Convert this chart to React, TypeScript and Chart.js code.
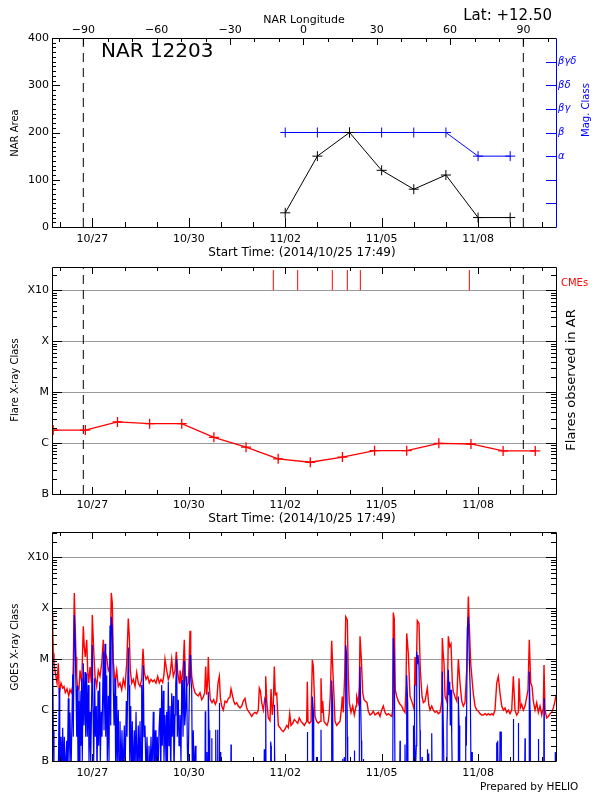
import React, { useEffect, useRef } from 'react';
import { Chart, registerables } from 'chart.js';

Chart.register(...registerables);

const FONT = "'DejaVu Sans', 'Liberation Sans', sans-serif";
const RED = '#ff0000';
const BLUE = '#0000ff';
const GRID = '#9a9a9a';

// ---- time axis: days after 2014-10-25 00:00 UT ----
const startDay = 0.742; // 2014/10/25 17:49
const endDay = 16.426;
const dateTickDays = [2, 5, 8, 11, 14];
const limbDays = [1.716, 15.409]; // -90 / +90 longitude crossing

// ---- longitude axis ----
const lonRange = [-102.8, 103.3];
const lonTicks = [-90, -60, -30, 0, 30, 60, 90];

// ---- NAR panel ----
const narDays = [8, 9, 10, 11, 12, 13, 14, 15];
const narArea = [30, 150, 200, 120, 80, 110, 20, 20];
const areaTicks = [0, 100, 200, 300, 400];
const magClass = [4, 4, 4, 4, 4, 4, 3, 3];
const magTicks = [3, 4, 5, 6, 7];
const magLabels = ['α', 'β', 'βγ', 'βδ', 'βγδ'];

// ---- flare panel ----
const flareDays = [0.78, 1.78, 2.78, 3.78, 4.78, 5.78, 6.78, 7.78, 8.78, 9.78, 10.78, 11.78, 12.78, 13.78, 14.78, 15.78];
const flareFlux = [1.8e-6, 1.8e-6, 2.6e-6, 2.4e-6, 2.4e-6, 1.3e-6, 8.3e-7, 4.9e-7, 4.2e-7, 5.3e-7, 7.1e-7, 7.1e-7, 9.9e-7, 9.6e-7, 7.0e-7, 7.0e-7];
const cmeDays = [7.629, 8.388, 9.465, 9.932, 10.337, 13.729];
const cmeSpan = [1.0e-3, 2.5e-3];

const classTicks = [1e-7, 1e-6, 1e-5, 1e-4, 1e-3];
const classLabels = ['B', 'C', 'M', 'X', 'X10'];
const flareRange = [1e-7, 2.87e-3];
const goesRange = [1e-7, 3.14e-3];

// ---- GOES flux, in units of 1e-6 W/m^2 ----
const goesUnit = 1e-6;
const goesLongDays = [0.742,0.764,0.782,0.804,0.835,0.866,0.898,0.938,0.969,1.022,1.075,1.115,1.156,1.209,1.262,1.302,1.343,1.386,1.405,1.436,1.467,1.489,1.511,1.542,1.582,1.613,1.666,1.716,1.747,1.778,1.822,1.853,1.884,1.925,1.965,1.996,2.040,2.080,2.133,2.183,2.236,2.289,2.339,2.370,2.401,2.444,2.494,2.547,2.587,2.619,2.650,2.703,2.755,2.805,2.858,2.911,2.961,3.014,3.067,3.116,3.148,3.179,3.222,3.272,3.325,3.378,3.428,3.481,3.533,3.574,3.614,3.667,3.720,3.770,3.823,3.876,3.926,3.978,4.031,4.081,4.134,4.187,4.227,4.258,4.311,4.361,4.414,4.467,4.517,4.570,4.610,4.654,4.704,4.725,4.778,4.828,4.859,4.890,4.934,4.984,5.015,5.037,5.058,5.090,5.139,5.192,5.245,5.295,5.348,5.401,5.451,5.494,5.525,5.556,5.588,5.606,5.637,5.668,5.721,5.774,5.824,5.868,5.908,5.949,5.980,6.023,6.073,6.126,6.179,6.229,6.281,6.313,6.353,6.396,6.437,6.490,6.540,6.593,6.645,6.695,6.748,6.801,6.851,6.904,6.957,7.007,7.060,7.112,7.162,7.193,7.225,7.268,7.318,7.371,7.393,7.424,7.474,7.526,7.558,7.598,7.629,7.660,7.691,7.735,7.785,7.838,7.890,7.940,7.993,8.046,8.096,8.139,8.180,8.233,8.283,8.335,8.388,8.438,8.491,8.544,8.594,8.668,8.687,8.709,8.749,8.802,8.843,8.874,8.905,8.927,8.979,9.029,9.082,9.113,9.145,9.166,9.207,9.247,9.300,9.341,9.372,9.403,9.446,9.477,9.518,9.549,9.602,9.652,9.705,9.757,9.776,9.807,9.851,9.882,9.932,9.963,9.994,10.047,10.100,10.150,10.203,10.224,10.274,10.306,10.327,10.368,10.411,10.452,10.492,10.545,10.586,10.638,10.691,10.741,10.794,10.847,10.897,10.949,11.002,11.052,11.105,11.158,11.208,11.261,11.313,11.345,11.363,11.394,11.425,11.469,11.519,11.572,11.625,11.675,11.727,11.758,11.780,11.830,11.883,11.936,11.986,12.017,12.039,12.070,12.110,12.163,12.204,12.257,12.297,12.350,12.422,12.465,12.506,12.559,12.608,12.661,12.714,12.764,12.817,12.870,12.888,12.919,12.941,12.972,13.025,13.057,13.075,13.119,13.159,13.200,13.231,13.284,13.337,13.387,13.439,13.492,13.542,13.595,13.648,13.698,13.729,13.772,13.822,13.853,13.906,13.959,14.009,14.062,14.115,14.164,14.217,14.270,14.320,14.373,14.425,14.475,14.528,14.581,14.631,14.684,14.737,14.787,14.839,14.892,14.942,14.995,15.048,15.098,15.150,15.203,15.253,15.275,15.315,15.359,15.409,15.462,15.515,15.555,15.595,15.639,15.680,15.720,15.773,15.826,15.876,15.929,15.982,16.031,16.053,16.084,16.137,16.187,16.240,16.292,16.342,16.395,16.426];
const goesLong = [80,40,13,8,6,4.5,3.4,8.3,2.2,3.4,2.7,2.9,2.2,2.6,1.9,2.5,2.2,2.9,8,200,37,11,4.6,2.5,2.5,6,3.4,44,17,11,24,6,3.4,7,3.4,74,15,4.6,2.9,6,4.6,8.3,24,6,13,11,6,7.2,200,125,9,3.4,6,2.9,3.4,2.5,4,2.9,8.3,63,28,6,3.4,4,2.9,5.5,3.4,2.9,4,16,5.5,4,4.6,3.4,4,3.6,3.9,3.4,4.6,3.4,4,3.5,5,10,6,4,5,10,4.6,6,14,5.5,3.4,6,3.4,8,24,5,2.9,3.4,12,36,12,4.6,2.9,2.2,2.0,1.9,2.2,1.6,1.8,2.2,7.2,2.0,4,11,3,1.6,1.4,1.6,1.3,1.5,3.4,4.6,1.8,1.2,1.0,1.5,1.4,1.7,1.8,2.6,2.0,1.5,1.3,1.4,1.2,1.1,1.2,1.5,1.7,1.1,0.95,0.85,0.75,0.85,0.9,0.85,1.0,2.7,2.4,1.4,1.0,1.8,4.6,1.5,0.7,0.62,2.6,0.8,1.3,7.2,2.0,2.15,0.5,0.45,0.4,0.38,0.42,0.5,0.45,0.85,0.5,0.55,0.65,0.6,0.55,0.7,0.6,0.55,0.5,0.6,3.6,0.6,0.55,0.6,9.7,7.2,2,0.75,0.6,0.55,0.6,4.2,0.9,1.5,0.6,0.55,0.5,0.6,0.9,2,23,7.2,1.85,0.6,0.5,0.55,0.6,1.2,1.85,0.9,5,68,59,4.6,1.4,0.9,1.2,0.8,1.2,1.85,1.4,3,28,10,2.2,1.6,1.5,1.4,0.95,0.8,0.85,0.95,0.8,0.85,0.9,0.75,1.0,1.2,0.9,0.8,0.85,0.8,0.75,1,82,61,2.5,1.85,1.5,1.3,1.2,1.0,0.9,3,32,13,1.85,1.5,1.2,1.0,11,3,57,50,6,1.85,1.4,1.5,2.7,1.3,1.0,1.2,1.0,0.9,0.95,0.85,0.9,1.5,26,12,8.3,1.9,1.5,5,28,17.7,20,3.4,2.3,1.8,1.5,10,3.4,1.5,1.2,1.4,6.2,170,43,8.3,3.5,2.1,1.2,1.0,0.95,0.85,0.8,0.8,0.85,0.8,0.85,0.8,0.85,0.8,1.0,3.4,4.6,2.15,1.2,1.0,1.1,0.9,1.0,0.85,1.0,4.6,1.0,0.8,0.9,4.2,1.1,1.3,1.0,1.2,1.8,2.5,24,3.4,2.9,1.5,1.0,1.4,0.9,1.2,0.8,1.1,7.7,1.0,0.7,0.75,0.85,0.9,1.1,1.5,2.0];

const goesShortDays = [
  0.742,0.764,0.782,0.804,0.938,0.969,0.984,1.022,1.044,1.075,1.094,1.125,1.156,1.199,1.218,1.249,1.271,1.302,1.333,1.386,1.405,1.436,1.467,
  1.489,1.511,1.530,1.551,1.573,1.592,1.613,1.644,1.666,1.684,
  1.716,1.738,1.769,1.791,1.822,1.840,1.871,1.893,1.925,1.946,
  1.965,1.996,2.018,2.040,2.071,2.090,2.121,2.143,2.174,2.196,
  2.227,2.245,2.276,2.298,2.339,2.361,2.392,2.414,2.444,2.463,
  2.494,2.516,2.547,2.569,2.587,2.619,2.650,
  2.672,2.703,2.724,2.755,2.774,2.805,2.827,2.858,2.889,2.920,
  2.951,2.992,3.014,3.055,3.076,3.116,3.139,3.161,3.192,3.210,
  3.241,3.263,3.304,3.325,3.357,3.388,3.428,3.450,3.481,3.512,
  3.533,3.552,3.583,3.605,3.636,3.667,3.698,3.730,3.760,3.792,
  3.823,3.854,3.894,3.916,3.957,3.978,4.019,4.041,4.072,4.103,
  4.125,4.156,4.174,4.205,4.227,4.258,4.289,4.311,4.330,4.361,
  4.383,4.414,4.436,4.467,4.485,4.517,4.538,4.570,4.592,4.623,
  4.642,4.673,4.695,4.725,4.756,4.778,4.797,4.819,4.850,4.871,
  4.903,4.934,4.953,4.975,5.006,5.037,5.058,5.090,5.108,5.139,
  5.161,5.201,5.223,5.254,5.270,
  5.503,5.512,5.525,5.556,5.565,5.575,5.597,5.606,5.628,5.650,5.700,5.712,5.721,5.824,5.837,5.846,5.886,5.899,5.908,5.939,5.949,5.961,5.980,5.993,6.304,6.313,6.322,7.339,7.349,7.361,7.380,7.393,7.402,7.536,7.548,7.558,7.567,7.651,7.660,7.673,7.682,8.678,8.687,8.700,8.834,8.843,8.874,8.886,8.958,8.967,8.979,9.104,9.113,9.123,9.434,9.446,9.477,9.487,9.776,9.789,9.807,9.829,9.838,9.860,9.882,9.913,9.932,9.944,10.140,10.150,10.162,10.296,10.306,10.327,10.368,10.380,10.421,10.430,10.443,11.345,11.363,11.394,11.416,11.562,11.572,11.581,11.718,11.727,11.737,11.768,11.780,11.811,11.821,11.976,11.986,11.998,12.008,12.017,12.030,12.048,12.079,12.092,12.110,12.132,12.163,12.194,12.204,12.248,12.257,12.266,12.412,12.422,12.434,12.453,12.465,12.475,12.546,12.559,12.568,12.879,12.888,12.919,12.941,13.025,13.034,13.057,13.075,13.097,13.119,13.137,13.159,13.181,13.200,13.377,13.387,13.409,13.431,13.595,13.617,13.636,13.667,13.698,13.729,13.760,13.782,13.813,13.822,14.568,14.581,14.590,14.612,14.622,14.674,14.684,14.715,14.724,15.088,15.098,15.110,15.244,15.253,15.265,15.452,15.462,15.471,15.586,15.595,15.617,15.627,15.866,15.876,15.889,16.044,16.053,16.062,16.395,16.404,16.426,
];
const goesShort = [
  12,10,0.4,0.05,0.05,2.7,0.05,0.3,0.05,0.45,0.05,0.3,0.05,0.25,0.05,1.7,0.1,0.9,0.05,5,0.3,74,17.7,
  2.5,0.3,3,0.1,1.5,0.05,2.4,0.2,4.2,0.1,
  8.3,0.5,5.6,0.3,5.2,0.3,3.1,0.1,0.93,0.1,
  0.5,19,1.0,0.1,4.2,0.3,1.2,0.05,2.4,0.2,
  3.6,0.1,0.93,0.3,14,0.4,20,0.3,4.8,0.1,
  1.9,0.1,46,0.5,68,40,2.7,
  0.5,4.2,0.05,1.9,0.1,1.0,0.05,0.6,0.05,0.4,
  0.05,0.5,0.05,1.5,0.3,17,3.1,0.1,1.2,0.05,
  0.6,0.05,0.4,0.05,0.93,0.05,0.5,0.05,0.6,0.05,
  3.1,0.1,7.6,0.3,0.5,0.05,0.3,0.05,0.2,0.05,
  0.3,0.05,0.93,0.05,0.4,0.05,0.3,0.05,0.4,1.1,
  0.05,3.1,0.2,2.4,0.1,0.8,0.1,0.93,0.05,3.6,
  0.2,1.2,0.05,2.15,0.3,1.9,0.05,0.8,3.1,10,
  0.3,1.6,0.2,0.8,0.1,3.1,3.9,0.3,9.1,0.5,
  1.0,4.6,0.2,0.05,0.9,12,5,2.4,0.05,0.4,
  0.05,0.2,0.05,0.1,0.05,
  0.05,0.95,0.05,0.05,0.15,0.05,0.05,2.3,0.4,0.05,0.05,0.28,0.05,0.05,0.41,0.05,0.05,0.41,0.05,0.05,1.37,0.05,0.15,0.05,0.05,0.21,0.05,0.05,0.17,0.05,0.05,1.7,0.05,0.05,0.24,0.2,0.05,0.05,1.27,0.2,0.05,0.05,0.37,0.05,0.05,1.85,1.0,0.05,0.05,0.12,0.05,0.05,0.41,0.05,0.05,3.8,1.2,0.05,0.05,0.11,0.05,0.05,0.12,0.05,19,12,0.3,0.05,0.05,0.16,0.05,0.05,0.9,7.2,0.25,0.05,0.05,0.11,0.05,0.05,26,10.4,0.05,0.05,0.25,0.05,0.05,0.21,0.05,0.05,4.9,1.37,0.05,0.05,0.5,0.05,0.05,3.1,0.4,0.05,0.2,14,8,12,7.2,0.4,0.05,0.05,0.12,0.05,0.05,0.17,0.05,0.05,0.14,0.05,0.05,0.35,0.05,0.05,5.7,0.5,0.05,0.05,0.5,2.0,6.2,2.0,3.6,0.5,2.5,0.3,0.05,0.05,1.85,0.5,0.05,0.05,0.75,0.2,40,68,9.7,2.15,0.05,0.15,0.05,0.05,0.23,0.05,0.25,0.05,0.05,0.37,0.37,0.05,0.05,0.67,0.05,0.05,0.56,0.05,0.05,0.28,0.05,0.05,5.7,1.0,0.05,0.05,0.27,0.05,0.05,1.7,0.05,0.05,0.15,0.05,
];

// ---------- helpers ----------
const cr = (v: number) => Math.round(v) + 0.5;

function seg(ctx: CanvasRenderingContext2D, x1: number, y1: number, x2: number, y2: number, color: string, w = 1) {
  ctx.beginPath();
  ctx.strokeStyle = color;
  ctx.lineWidth = w;
  ctx.setLineDash([]);
  ctx.moveTo(x1, y1);
  ctx.lineTo(x2, y2);
  ctx.stroke();
}

function text(ctx: CanvasRenderingContext2D, s: string, x: number, y: number, size: number, color = '#000', align: CanvasTextAlign = 'left') {
  ctx.save();
  ctx.font = `${size}px ${FONT}`;
  ctx.fillStyle = color;
  ctx.textAlign = align;
  ctx.textBaseline = 'middle';
  ctx.fillText(s, x, y);
  ctx.restore();
}

function vtext(ctx: CanvasRenderingContext2D, s: string, x: number, y: number, size: number, color = '#000') {
  ctx.save();
  ctx.translate(x, y);
  ctx.rotate(-Math.PI / 2);
  ctx.font = `${size}px ${FONT}`;
  ctx.fillStyle = color;
  ctx.textAlign = 'center';
  ctx.textBaseline = 'middle';
  ctx.fillText(s, 0, 0);
  ctx.restore();
}

function dayLabel(v: number) {
  const d = new Date(Date.UTC(2014, 9, 25 + Math.round(v)));
  return `${String(d.getUTCMonth() + 1).padStart(2, '0')}/${String(d.getUTCDate()).padStart(2, '0')}`;
}

function dayTicks(ctx: CanvasRenderingContext2D, xs: any, area: any, major: number, minor: number, top: boolean, bottom: boolean) {
  for (let d = Math.ceil(xs.min); d <= Math.floor(xs.max); d++) {
    const px = cr(xs.getPixelForValue(d));
    const len = dateTickDays.includes(d) ? major : minor;
    if (bottom) seg(ctx, px, area.bottom, px, area.bottom - len, '#000');
    if (top) seg(ctx, px, area.top, px, area.top + len, '#000');
  }
}

function logTicks(ctx: CanvasRenderingContext2D, ys: any, area: any, major: number, minor: number) {
  for (let e = -7; e <= -3; e++) {
    for (let m = 1; m <= 9; m++) {
      const v = m * Math.pow(10, e);
      if (v < ys.min * 0.999 || v > ys.max) continue;
      const py = cr(ys.getPixelForValue(v));
      const len = m === 1 ? major : minor;
      seg(ctx, area.left, py, area.left + len, py, '#000');
      seg(ctx, area.right, py, area.right - len, py, '#000');
    }
  }
}

function box(ctx: CanvasRenderingContext2D, area: any, rightColor = '#000') {
  const l = cr(area.left), r = cr(area.right), t = cr(area.top), b = cr(area.bottom);
  seg(ctx, l, t, r, t, '#000');
  seg(ctx, l, b, r, b, '#000');
  seg(ctx, l, t, l, b, '#000');
  seg(ctx, r, t, r, b, rightColor);
}

function pairs(xs: number[], ys: number[], scale = 1) {
  const n = Math.min(xs.length, ys.length);
  const out: { x: number; y: number }[] = [];
  for (let i = 0; i < n; i++) out.push({ x: xs[i], y: ys[i] * scale });
  return out;
}

const tickFont = { family: FONT, size: 11 };
const noGrid = { display: false, drawTicks: false };

function xAxis(padding: number) {
  return {
    type: 'linear',
    position: 'bottom',
    min: startDay,
    max: endDay,
    grid: noGrid,
    border: { display: false },
    afterBuildTicks: (s: any) => { s.ticks = dateTickDays.map((v) => ({ value: v })); },
    afterFit: (s: any) => { s.height = 30; },
    ticks: { callback: (v: any) => dayLabel(Number(v)), autoSkip: false, maxRotation: 0, padding, color: '#000', font: tickFont },
  };
}

function classAxis(range: number[]) {
  return {
    type: 'logarithmic',
    position: 'left',
    min: range[0],
    max: range[1],
    grid: {
      display: true,
      drawTicks: false,
      lineWidth: 1,
      color: (c: any) => (c.tick && c.tick.value > 1.5e-7 ? GRID : 'rgba(0,0,0,0)'),
    },
    border: { display: false },
    afterBuildTicks: (s: any) => { s.ticks = classTicks.map((v) => ({ value: v })); },
    afterFit: (s: any) => { s.width = 52; },
    ticks: {
      autoSkip: false,
      padding: 3,
      color: '#000',
      font: tickFont,
      callback: (v: any) => {
        const i = classTicks.findIndex((t) => Math.abs(Math.log10(t) - Math.log10(Number(v))) < 0.01);
        return i >= 0 ? classLabels[i] : '';
      },
    },
  };
}

const baseOptions = {
  responsive: false,
  animation: false,
  devicePixelRatio: 1,
  events: [],
  plugins: { legend: { display: false }, tooltip: { enabled: false } },
};

function limbSets(yMin: number, yMax: number, yAxisID = 'y') {
  return limbDays.map((d) => ({
    data: [{ x: d, y: yMin }, { x: d, y: yMax }],
    borderColor: '#000',
    borderWidth: 1,
    borderDash: [9, 6],
    pointRadius: 0,
    yAxisID,
  }));
}

// ---------- panel 1 ----------
function config1(): any {
  const deco = {
    id: 'deco1',
    afterDraw(chart: any) {
      const ctx = chart.ctx as CanvasRenderingContext2D;
      const a = chart.chartArea;
      const { x, xLon, y, y2 } = chart.scales;
      box(ctx, a, BLUE);
      for (let v = 0; v <= 400; v += 10) {
        const py = cr(y.getPixelForValue(v));
        seg(ctx, a.left, py, a.left + (v % 100 === 0 ? 8 : 4), py, '#000');
      }
      for (let v = 1; v <= 7; v++) {
        const py = cr(y2.getPixelForValue(v));
        seg(ctx, a.right, py, a.right - 10, py, BLUE);
      }
      for (let L = -100; L <= 100; L += 10) {
        if (L < xLon.min || L > xLon.max) continue;
        const px = cr(xLon.getPixelForValue(L));
        seg(ctx, px, a.top, px, a.top + (L % 30 === 0 ? 7 : 4), '#000');
      }
      dayTicks(ctx, x, a, 9, 5, false, true);
      text(ctx, 'NAR Longitude', 304, 20, 11, '#000', 'center');
      text(ctx, 'Lat: +12.50', 552, 16.5, 15, '#000', 'right');
      text(ctx, 'NAR 12203', 101, 52, 20);
      vtext(ctx, 'NAR Area', 15, 133, 10);
      vtext(ctx, 'Mag. Class', 586, 110, 10, BLUE);
      text(ctx, 'Start Time: (2014/10/25 17:49)', 302, 252.5, 12, '#000', 'center');
    },
  };
  return {
    type: 'line',
    data: {
      datasets: [
        {
          data: pairs(narDays, narArea),
          borderColor: '#000', borderWidth: 1,
          pointStyle: 'cross', pointRadius: 5, pointBorderColor: '#000', pointBorderWidth: 1,
          yAxisID: 'y',
        },
        {
          data: pairs(narDays, magClass),
          borderColor: BLUE, borderWidth: 1,
          pointStyle: 'cross', pointRadius: 5, pointBorderColor: BLUE, pointBorderWidth: 1,
          yAxisID: 'y2',
        },
        ...limbSets(areaTicks[0], areaTicks[areaTicks.length - 1]),
      ],
    },
    options: {
      ...baseOptions,
      layout: { padding: { left: 0, right: 0, top: 0, bottom: 543 }, autoPadding: false },
      scales: {
        x: xAxis(6),
        xLon: {
          type: 'linear', position: 'top', min: lonRange[0], max: lonRange[1],
          grid: noGrid, border: { display: false },
          afterBuildTicks: (s: any) => { s.ticks = lonTicks.map((v) => ({ value: v })); },
          afterFit: (s: any) => { s.height = 38; },
          ticks: {
            autoSkip: false, maxRotation: 0, padding: 1, color: '#000', font: tickFont,
            callback: (v: any) => (Number(v) < 0 ? '\u2212' + Math.abs(Number(v)) : String(v)),
          },
        },
        y: {
          type: 'linear', position: 'left', min: 0, max: 400,
          grid: noGrid, border: { display: false },
          afterBuildTicks: (s: any) => { s.ticks = areaTicks.map((v) => ({ value: v })); },
          afterFit: (s: any) => { s.width = 52; },
          ticks: { autoSkip: false, padding: 3, color: '#000', font: tickFont },
        },
        y2: {
          type: 'linear', position: 'right', min: 0, max: 8,
          grid: noGrid, border: { display: false },
          afterBuildTicks: (s: any) => { s.ticks = magTicks.map((v) => ({ value: v })); },
          afterFit: (s: any) => { s.width = 44; },
          ticks: {
            autoSkip: false, padding: 2, color: BLUE, font: { family: FONT, size: 10, style: 'italic' },
            callback: (v: any) => magLabels[magTicks.indexOf(Number(v))] ?? '',
          },
        },
      },
    },
    plugins: [deco],
  };
}

// ---------- panel 2 ----------
function config2(): any {
  const deco = {
    id: 'deco2',
    afterDraw(chart: any) {
      const ctx = chart.ctx as CanvasRenderingContext2D;
      const a = chart.chartArea;
      const { x, y } = chart.scales;
      box(ctx, a);
      logTicks(ctx, y, a, 10, 5);
      dayTicks(ctx, x, a, 7, 4, true, true);
      vtext(ctx, 'Flare X-ray Class', 15, 380, 10);
      vtext(ctx, 'Flares observed in AR', 572, 380, 13);
      text(ctx, 'CMEs', 561, 283.5, 10, RED);
      text(ctx, 'Start Time: (2014/10/25 17:49)', 302, 519, 12, '#000', 'center');
    },
  };
  const cmeData: any[] = [];
  cmeDays.forEach((d) => {
    cmeData.push({ x: d, y: cmeSpan[0] }, { x: d, y: cmeSpan[1] }, { x: d, y: null });
  });
  return {
    type: 'line',
    data: {
      datasets: [
        {
          data: pairs(flareDays, flareFlux),
          borderColor: RED, borderWidth: 1.3,
          pointStyle: 'cross', pointRadius: 5, pointBorderColor: RED, pointBorderWidth: 1.3,
        },
        { data: cmeData, borderColor: RED, borderWidth: 1, pointRadius: 0, spanGaps: false },
        ...limbSets(flareRange[0], flareRange[1]),
      ],
    },
    options: {
      ...baseOptions,
      layout: { padding: { left: 0, right: 44, top: 267, bottom: 276 }, autoPadding: false },
      scales: { x: xAxis(4.5), y: classAxis(flareRange) },
    },
    plugins: [deco],
  };
}

// ---------- panel 3 ----------
function config3(): any {
  const deco = {
    id: 'deco3',
    afterDraw(chart: any) {
      const ctx = chart.ctx as CanvasRenderingContext2D;
      const a = chart.chartArea;
      const { x, y } = chart.scales;
      box(ctx, a);
      logTicks(ctx, y, a, 10, 5);
      dayTicks(ctx, x, a, 7, 4, true, true);
      vtext(ctx, 'GOES X-ray Class', 15.5, 647, 10);
      text(ctx, 'Prepared by HELIO', 480, 787.5, 10.5);
    },
  };
  return {
    type: 'line',
    data: {
      datasets: [
        { data: pairs(goesShortDays, goesShort, goesUnit), borderColor: BLUE, borderWidth: 1.2, pointRadius: 0 },
        { data: pairs(goesLongDays, goesLong, goesUnit), borderColor: RED, borderWidth: 1.4, pointRadius: 0 },
      ],
    },
    options: {
      ...baseOptions,
      layout: { padding: { left: 0, right: 44, top: 532, bottom: 9 }, autoPadding: false },
      scales: { x: xAxis(5.5), y: classAxis(goesRange) },
    },
    plugins: [deco],
  };
}

export default function App() {
  const r1 = useRef<HTMLCanvasElement>(null);
  const r2 = useRef<HTMLCanvasElement>(null);
  const r3 = useRef<HTMLCanvasElement>(null);

  useEffect(() => {
    Chart.defaults.font.family = FONT;
    Chart.defaults.color = '#000';
    const charts = [
      new Chart(r3.current as HTMLCanvasElement, config3()),
      new Chart(r2.current as HTMLCanvasElement, config2()),
      new Chart(r1.current as HTMLCanvasElement, config1()),
    ];
    return () => charts.forEach((c) => c.destroy());
  }, []);

  const st: React.CSSProperties = { position: 'absolute', left: 0, top: 0, width: 600, height: 800 };
  return (
    <div style={{ position: 'absolute', left: 0, top: 0, width: 600, height: 800, background: '#fff', overflow: 'hidden' }}>
      <canvas ref={r3} width={600} height={800} style={st} />
      <canvas ref={r2} width={600} height={800} style={st} />
      <canvas ref={r1} width={600} height={800} style={st} />
    </div>
  );
}
